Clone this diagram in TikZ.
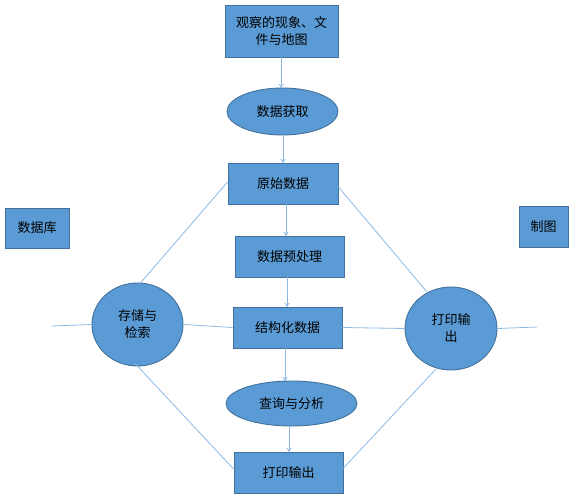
\documentclass[tikz,border=0pt]{standalone}
\usepackage{fontspec}
\newfontfamily\cjk{Noto Sans CJK SC}
\usetikzlibrary{arrows.meta,shapes.geometric}
\definecolor{boxfill}{HTML}{5B9BD5}
\definecolor{boxline}{HTML}{41719C}
\definecolor{conn}{HTML}{8DB8E2}
\begin{document}
\begin{tikzpicture}[x=1pt,y=-1pt,
  every node/.style={font=\cjk\fontsize{13}{17}\selectfont, text=black, inner sep=0pt},
  blk/.style={rectangle, draw=boxline, fill=boxfill, line width=0.9pt, align=center},
  ell/.style={ellipse, draw=boxline, fill=boxfill, line width=0.9pt, align=center},
  link/.style={draw=conn, line width=0.8pt},
  arr/.style={link, -{To[length=4pt,width=5pt]}}]
\useasboundingbox (0,0) rectangle (572,497);
% boxes
\node[blk, minimum width=113pt, minimum height=52pt] (obs) at (281.5,31) {观察的现象、文\\件与地图};
\node[ell, minimum width=111pt, minimum height=47pt] (get) at (282.5,111.5) {数据获取};
\node[blk, minimum width=110pt, minimum height=41pt] (raw) at (283,183.5) {原始数据};
\node[blk, minimum width=109pt, minimum height=41pt] (pre) at (289.5,256.5) {数据预处理};
\node[blk, minimum width=109pt, minimum height=41pt] (str) at (287.5,327.5) {结构化数据};
\node[ell, minimum width=131pt, minimum height=45pt] (qry) at (291.5,403.5) {查询与分析};
\node[blk, minimum width=109pt, minimum height=41pt] (out) at (288.5,472.5) {打印输出};
\node[blk, minimum width=64pt, minimum height=40pt] (db) at (37,228) {数据库};
\node[blk, minimum width=49pt, minimum height=41pt] (map) at (543.5,226.5) {制图};
\node[ell, minimum width=91pt, minimum height=83pt] (sto) at (137.5,324.5) {存储与\\检索};
\node[ell, minimum width=92pt, minimum height=83pt] (prt) at (451,328.5) {打印输\\出};
\coordinate (lend) at (52,326);
\coordinate (rend) at (537,327);
% arrows
\draw[arr] (281,57) -- (281,88);
\draw[arr] (283,135) -- (283,163);
\draw[arr] (286,204) -- (286,236);
\draw[arr] (287,277) -- (287,307);
\draw[arr] (285,348) -- (285,381);
\draw[arr] (289,426) -- (289,452);
% lines
\draw[link] (lend) -- (sto.west);
\draw[link] (sto.east) -- (str.west);
\draw[link] (str.east) -- (prt.west);
\draw[link] (prt.east) -- (rend);
\draw[link] (raw.west |- 0,182) -- (140,283.5);
\draw[link] (raw.east |- 0,187) -- (427,292);
\draw[link] (135,363.5) -- (out.west |- 0,469);
\draw[link] (436,369) -- (out.east |- 0,468);
\end{tikzpicture}
\end{document}
